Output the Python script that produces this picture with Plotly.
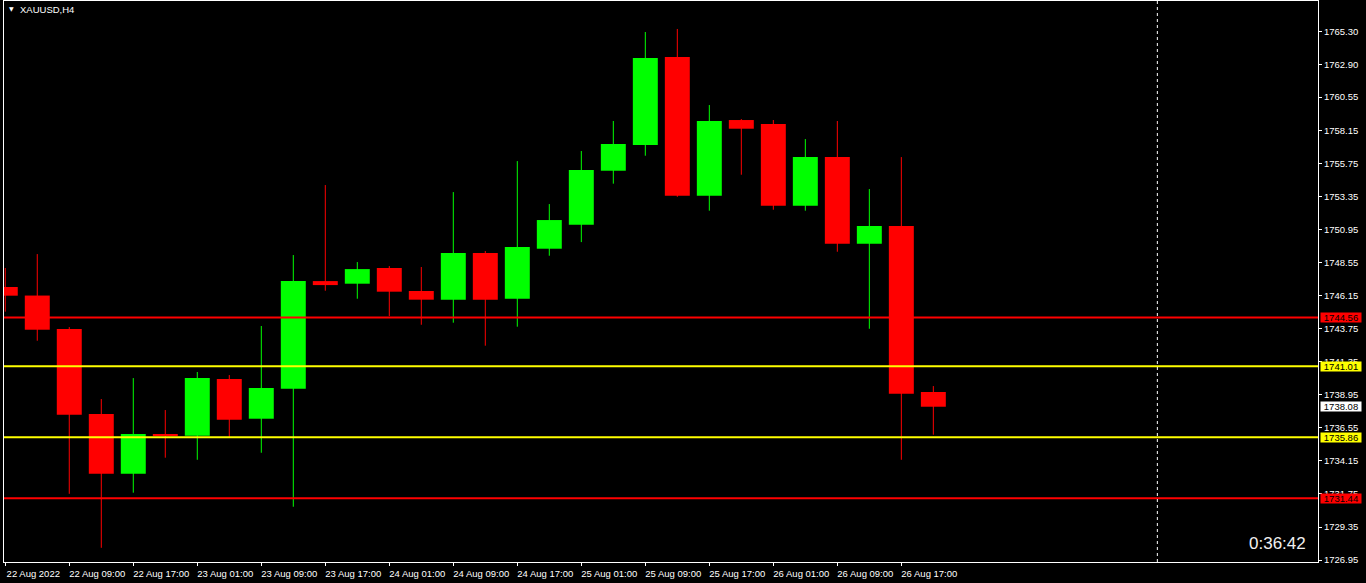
import plotly.graph_objects as go

# ---- data (XAUUSD H4) ----
times = ["22 Aug 01:00", "22 Aug 05:00", "22 Aug 09:00", "22 Aug 13:00", "22 Aug 17:00", "22 Aug 21:00",
         "23 Aug 01:00", "23 Aug 05:00", "23 Aug 09:00", "23 Aug 13:00", "23 Aug 17:00", "23 Aug 21:00",
         "24 Aug 01:00", "24 Aug 05:00", "24 Aug 09:00", "24 Aug 13:00", "24 Aug 17:00", "24 Aug 21:00",
         "25 Aug 01:00", "25 Aug 05:00", "25 Aug 09:00", "25 Aug 13:00", "25 Aug 17:00", "25 Aug 21:00",
         "26 Aug 01:00", "26 Aug 05:00", "26 Aug 09:00", "26 Aug 13:00", "26 Aug 17:00", "26 Aug 21:00"]
opens = [1746.77, 1746.15, 1743.72, 1737.55, 1733.22, 1736.10, 1735.98, 1740.09, 1737.21, 1739.39,
         1747.20, 1747.01, 1748.15, 1746.48, 1745.85, 1749.24, 1745.92, 1749.55, 1751.29, 1755.21,
         1757.08, 1763.46, 1753.40, 1758.89, 1758.60, 1752.67, 1756.20, 1749.91, 1751.20, 1739.15]
highs = [1748.15, 1749.16, 1743.86, 1738.64, 1740.16, 1737.84, 1740.60, 1740.38, 1743.94, 1749.09,
         1754.17, 1748.58, 1748.29, 1748.22, 1753.66, 1749.38, 1755.91, 1752.79, 1756.64, 1758.82,
         1765.28, 1765.50, 1759.98, 1758.96, 1758.89, 1757.51, 1758.82, 1753.88, 1756.20, 1739.58]
lows = [1744.98, 1742.87, 1731.76, 1727.84, 1731.84, 1734.38, 1734.23, 1735.83, 1734.74, 1730.82,
        1746.50, 1745.92, 1744.66, 1744.03, 1744.18, 1742.51, 1743.89, 1749.04, 1750.03, 1754.27,
        1756.30, 1753.32, 1752.31, 1754.92, 1752.38, 1752.31, 1749.33, 1743.74, 1734.23, 1736.05]
closes = [1746.14, 1743.67, 1737.50, 1733.22, 1736.10, 1735.95, 1740.16, 1737.14, 1739.44, 1747.20,
          1746.91, 1748.07, 1746.43, 1745.85, 1749.24, 1745.85, 1749.67, 1751.63, 1755.26, 1757.15,
          1763.39, 1753.40, 1758.82, 1758.26, 1752.67, 1756.20, 1749.91, 1751.20, 1739.02, 1738.08]

x_tick_idx = [0, 2, 4, 6, 8, 10, 12, 14, 16, 18, 20, 22, 24, 26, 28]
x_tick_text = ["22 Aug 2022", "22 Aug 09:00", "22 Aug 17:00", "23 Aug 01:00", "23 Aug 09:00",
               "23 Aug 17:00", "24 Aug 01:00", "24 Aug 09:00", "24 Aug 17:00", "25 Aug 01:00",
               "25 Aug 09:00", "25 Aug 17:00", "26 Aug 01:00", "26 Aug 09:00", "26 Aug 17:00"]
y_tick_vals = [1765.30, 1762.90, 1760.55, 1758.15, 1755.75, 1753.35, 1750.95, 1748.55, 1746.15,
               1743.75, 1741.35, 1738.95, 1736.55, 1734.15, 1731.75, 1729.35, 1726.95]

level_prices = [1744.56, 1741.01, 1735.86, 1731.44]
level_colors = ["#FF0000", "#FFFF00", "#FFFF00", "#FF0000"]
last_price = 1738.08
shift_bar = 36
symbol_label = "XAUUSD,H4"
timer_text = "0:36:42"

GREEN = "#00FF00"
RED = "#FF0000"
FONT = "Liberation Sans, Arial, sans-serif"

fig = go.Figure()

xs = list(range(len(opens)))
up = [c >= o for o, c in zip(opens, closes)]

for color, flag in ((GREEN, True), (RED, False)):
    idx = [i for i in xs if up[i] == flag]
    wx, wy = [], []
    for i in idx:
        wx += [i, i, None]
        wy += [lows[i], highs[i], None]
    fig.add_trace(go.Scatter(x=wx, y=wy, mode="lines", line=dict(color=color, width=1),
                             hoverinfo="skip", showlegend=False))
    fig.add_trace(go.Bar(x=idx,
                         y=[max(abs(closes[i] - opens[i]), 0.12) for i in idx],
                         base=[min(opens[i], closes[i]) for i in idx],
                         width=0.78, marker=dict(color=color, line=dict(width=0)),
                         showlegend=False))

for p, c in zip(level_prices, level_colors):
    fig.add_hline(y=p, line=dict(color=c, width=2), layer="above")

fig.add_vline(x=shift_bar, line=dict(color="white", width=1, dash="3px,3px"), layer="above")

# price labels on the axis
label_list = [(p, c) for p, c in zip(level_prices, level_colors)] + [(last_price, "#FFFFFF")]
for p, c in label_list:
    fig.add_annotation(x=1, xref="paper", y=p, yref="y", xanchor="left", yanchor="middle",
                       xshift=2, text=f"{p:.2f}", showarrow=False, bgcolor=c,
                       width=40, height=9, borderpad=0,
                       font=dict(family=FONT, size=9.5, color="#000000"))

fig.add_annotation(x=0, xref="paper", y=1, yref="paper", xanchor="left", yanchor="top",
                   xshift=3, yshift=-2, text="▼", showarrow=False,
                   font=dict(family="DejaVu Sans", size=6, color="white"))
fig.add_annotation(x=0, xref="paper", y=1, yref="paper", xanchor="left", yanchor="top",
                   xshift=14, yshift=-1, text=symbol_label, showarrow=False,
                   font=dict(family=FONT, size=9.5, color="white"))
fig.add_annotation(x=1, xref="paper", y=0, yref="paper", xanchor="right", yanchor="middle",
                   xshift=-10, yshift=19, text=timer_text, showarrow=False,
                   font=dict(family=FONT, size=17, color="#F0F0F0"))

L, R, T, B = 4, 48, 1, 21
fig.update_layout(
    width=1366, height=583,
    margin=dict(l=L, r=R, t=T, b=B, pad=0),
    paper_bgcolor="black", plot_bgcolor="black",
    barmode="overlay", showlegend=False, hovermode=False,
    font=dict(family=FONT, size=9.5, color="white"),
    xaxis=dict(range=[-0.04, 41.02], tickvals=x_tick_idx, ticktext=x_tick_text,
               ticks="outside", ticklen=3, tickcolor="white", showgrid=False, zeroline=False,
               showline=True, linecolor="white", linewidth=1, mirror=True,
               ticklabelshift=28, tickangle=0, tickfont=dict(family=FONT, size=9.5, color="white")),
    yaxis=dict(range=[1726.81, 1767.53], side="right", tickvals=y_tick_vals,
               ticktext=[f"{v:.2f}" for v in y_tick_vals],
               ticks="outside", ticklen=3, tickcolor="white", showgrid=False, zeroline=False,
               showline=True, linecolor="white", linewidth=1, mirror=True,
               tickfont=dict(family=FONT, size=9.5, color="white")),
)

fig.write_html("out.html", config={"displayModeBar": False},
               post_script="document.body.style.margin='0';document.body.style.overflow='hidden';")
